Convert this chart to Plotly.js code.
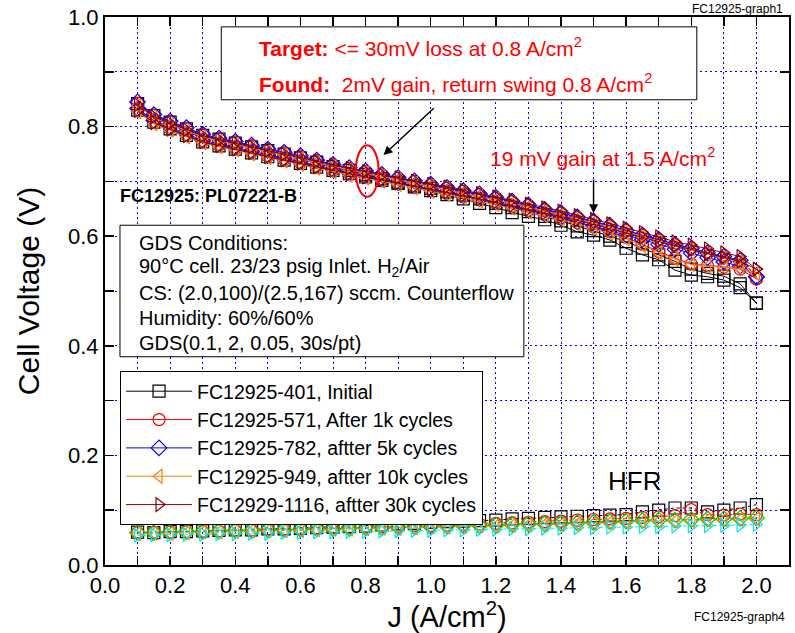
<!DOCTYPE html>
<html>
<head>
<meta charset="utf-8">
<script src="https://cdn.plot.ly/plotly-3.0.1.min.js"></script>
<style>html,body{margin:0;padding:0;background:#fff;}#chart{width:795px;height:633px;}</style>
</head>
<body>
<div id="chart"></div>
<script>
// Current density (A/cm^2), GDS scan 0.1 -> 2.0 step 0.05
const J = [0.10,0.15,0.20,0.25,0.30,0.35,0.40,0.45,0.50,0.55,0.60,0.65,0.70,0.75,0.80,0.85,0.90,0.95,1.00,1.05,1.10,1.15,1.20,1.25,1.30,1.35,1.40,1.45,1.50,1.55,1.60,1.65,1.70,1.75,1.80,1.85,1.90,1.95,2.00];

// Tick positions / labels
const xTickVals = [0,0.1,0.2,0.3,0.4,0.5,0.6,0.7,0.8,0.9,1.0,1.1,1.2,1.3,1.4,1.5,1.6,1.7,1.8,1.9,2.0];
const xTickText = ["0.0","","0.2","","0.4","","0.6","","0.8","","1.0","","1.2","","1.4","","1.6","","1.8","","2.0"];
const yTickVals = [0,0.1,0.2,0.3,0.4,0.5,0.6,0.7,0.8,0.9,1.0];
const yTickText = ["0.0","","0.2","","0.4","","0.6","","0.8","","1.0"];

// Series names
const names = ["FC12925-401, Initial","FC12925-571, After 1k cycles","FC12925-782, aftter 5k cycles","FC12925-949, aftter 10k cycles","FC12929-1116, aftter 30k cycles"];

// Cell voltage, up sweep (V)
const V401_up  = [0.842,0.820,0.808,0.796,0.784,0.777,0.770,0.763,0.756,0.750,0.743,0.735,0.727,0.720,0.713,0.705,0.697,0.690,0.683,0.676,0.668,0.660,0.652,0.643,0.636,0.630,0.620,0.608,0.602,0.593,0.578,0.566,0.557,0.538,0.529,0.526,0.520,0.506,0.478];
const V571_up  = [0.843,0.821,0.809,0.797,0.785,0.778,0.772,0.765,0.758,0.752,0.746,0.738,0.730,0.724,0.718,0.712,0.706,0.700,0.694,0.688,0.682,0.676,0.670,0.663,0.656,0.648,0.642,0.634,0.627,0.619,0.610,0.601,0.593,0.584,0.577,0.569,0.562,0.553,0.522];
const V782_up  = [0.845,0.822,0.810,0.798,0.786,0.779,0.773,0.766,0.759,0.753,0.747,0.739,0.731,0.725,0.719,0.713,0.707,0.701,0.695,0.689,0.683,0.677,0.671,0.664,0.657,0.649,0.643,0.635,0.628,0.620,0.611,0.602,0.594,0.585,0.578,0.570,0.563,0.556,0.526];
const V949_up  = [0.838,0.816,0.804,0.792,0.781,0.774,0.768,0.761,0.754,0.748,0.742,0.734,0.727,0.721,0.715,0.709,0.703,0.697,0.691,0.685,0.679,0.673,0.667,0.660,0.653,0.646,0.639,0.632,0.625,0.617,0.608,0.599,0.591,0.582,0.576,0.568,0.561,0.552,0.532];
const V1116_up = [0.840,0.818,0.806,0.794,0.783,0.776,0.770,0.763,0.756,0.750,0.744,0.737,0.730,0.724,0.718,0.712,0.707,0.701,0.695,0.690,0.684,0.678,0.672,0.666,0.659,0.652,0.646,0.638,0.631,0.623,0.615,0.607,0.599,0.590,0.584,0.577,0.570,0.563,0.540];

// Cell voltage, return sweep (V), listed at the same J order
const V401_dn  = [0.830,0.808,0.796,0.784,0.772,0.765,0.759,0.752,0.745,0.739,0.733,0.726,0.720,0.714,0.708,0.702,0.697,0.692,0.687,0.681,0.675,0.668,0.660,0.652,0.645,0.636,0.628,0.619,0.610,0.600,0.590,0.578,0.566,0.554,0.540,0.532,0.527,0.513,0.478];
const V571_dn  = [0.831,0.809,0.797,0.785,0.773,0.766,0.760,0.753,0.746,0.740,0.734,0.727,0.720,0.714,0.709,0.703,0.697,0.691,0.685,0.679,0.673,0.667,0.661,0.654,0.647,0.640,0.633,0.625,0.617,0.608,0.598,0.585,0.572,0.560,0.549,0.546,0.544,0.540,0.522];
const V782_dn  = [0.833,0.811,0.799,0.787,0.775,0.768,0.762,0.755,0.748,0.742,0.736,0.729,0.722,0.716,0.710,0.704,0.698,0.692,0.686,0.680,0.674,0.668,0.662,0.655,0.648,0.641,0.634,0.626,0.619,0.611,0.602,0.594,0.585,0.576,0.569,0.561,0.553,0.545,0.526];
const V949_dn  = [0.827,0.805,0.793,0.781,0.770,0.763,0.757,0.750,0.743,0.737,0.731,0.724,0.717,0.711,0.706,0.700,0.694,0.688,0.682,0.676,0.670,0.664,0.658,0.651,0.644,0.637,0.630,0.622,0.614,0.605,0.595,0.583,0.570,0.558,0.548,0.545,0.543,0.541,0.532];
const V1116_dn = [0.829,0.807,0.795,0.783,0.772,0.765,0.759,0.752,0.745,0.739,0.733,0.726,0.720,0.714,0.708,0.703,0.697,0.691,0.686,0.680,0.674,0.668,0.662,0.656,0.649,0.642,0.636,0.629,0.622,0.614,0.606,0.598,0.590,0.582,0.575,0.568,0.561,0.554,0.540];

// HFR (ohm cm^2)
const HFR401  = [0.060,0.059,0.061,0.061,0.062,0.063,0.064,0.064,0.066,0.066,0.067,0.068,0.069,0.070,0.071,0.073,0.075,0.076,0.078,0.079,0.080,0.081,0.082,0.084,0.085,0.087,0.088,0.089,0.090,0.091,0.092,0.097,0.100,0.104,0.104,0.097,0.100,0.104,0.110];
const HFR571  = [0.059,0.060,0.060,0.061,0.061,0.062,0.063,0.064,0.064,0.065,0.066,0.067,0.068,0.068,0.069,0.070,0.071,0.072,0.072,0.073,0.074,0.075,0.076,0.077,0.078,0.079,0.080,0.082,0.083,0.084,0.085,0.087,0.088,0.090,0.101,0.092,0.091,0.093,0.092];
const HFR782  = [0.059,0.059,0.060,0.061,0.061,0.062,0.063,0.063,0.064,0.064,0.065,0.066,0.066,0.067,0.068,0.068,0.069,0.070,0.070,0.071,0.072,0.072,0.073,0.074,0.075,0.075,0.076,0.077,0.078,0.079,0.080,0.081,0.082,0.082,0.083,0.084,0.084,0.085,0.086];
const HFR949  = [0.057,0.058,0.058,0.059,0.060,0.060,0.061,0.062,0.062,0.063,0.063,0.064,0.065,0.065,0.066,0.067,0.067,0.068,0.069,0.069,0.070,0.071,0.071,0.072,0.073,0.074,0.074,0.075,0.076,0.077,0.078,0.079,0.080,0.080,0.081,0.082,0.082,0.083,0.084];
const HFR1116 = [0.054,0.055,0.055,0.056,0.056,0.057,0.057,0.058,0.058,0.059,0.059,0.060,0.060,0.061,0.061,0.062,0.062,0.063,0.063,0.064,0.064,0.065,0.065,0.066,0.066,0.067,0.067,0.068,0.068,0.069,0.069,0.070,0.070,0.071,0.071,0.072,0.072,0.073,0.074];

const polColors = ["#000000","#ff0000","#0000ff","#ff8000","#8b0000"];
const hfrColors = ["#000000","#ff0000","#00cc00","#ff8000","#00e5ee"];
const symbols = ["square-open","circle-open","diamond-open","triangle-left-open","triangle-right-open"];

const upSets = [V401_up,V571_up,V782_up,V949_up,V1116_up];
const dnSets = [V401_dn,V571_dn,V782_dn,V949_dn,V1116_dn];
const hfrSets = [HFR401,HFR571,HFR782,HFR949,HFR1116];

const Jrev = J.slice().reverse();
const traces = [];
for (let i = 0; i < 5; i++) {
  traces.push({
    x: J, y: hfrSets[i], type: "scatter", mode: "lines+markers", showlegend: false,
    line: {color: hfrColors[i], width: 1, dash: "dot"},
    marker: {symbol: symbols[i], size: 12, color: hfrColors[i], line: {color: hfrColors[i], width: 1.2}}
  });
}
for (let i = 0; i < 5; i++) {
  traces.push({
    x: J.concat(Jrev), y: upSets[i].concat(dnSets[i].slice().reverse()),
    type: "scatter", mode: "lines+markers", name: names[i],
    line: {color: polColors[i], width: 1},
    marker: {symbol: symbols[i], size: 12, color: polColors[i], line: {color: polColors[i], width: 1.2}}
  });
}

const FONT = "Liberation Sans, Arial, sans-serif";
const axisCommon = {
  tickmode: "array",
  ticks: "inside", ticklen: 9, tickwidth: 1.5, tickcolor: "#000",
  showline: true, linewidth: 2, linecolor: "#000", mirror: "ticks",
  showgrid: true, gridcolor: "#0000ff", griddash: "2px,3px", gridwidth: 1,
  zeroline: false,
  tickfont: {family: FONT, size: 22, color: "#000"}
};

const layout = {
  width: 795, height: 633,
  margin: {l: 105, r: 6, t: 17, b: 68},
  paper_bgcolor: "#fff", plot_bgcolor: "#fff",
  font: {family: FONT, color: "#000"},
  xaxis: Object.assign({}, axisCommon, {
    range: [0, 2.1], tickvals: xTickVals, ticktext: xTickText,
    title: {text: "J (A/cm<sup>2</sup>)", font: {family: FONT, size: 29}, standoff: 10}
  }),
  yaxis: Object.assign({}, axisCommon, {
    range: [0, 1.0], tickvals: yTickVals, ticktext: yTickText,
    title: {text: "Cell Voltage (V)", font: {family: FONT, size: 30}, standoff: 20}
  }),
  legend: {
    x: 0.022, y: 0.354, xanchor: "left", yanchor: "top",
    bgcolor: "#fff", bordercolor: "#000", borderwidth: 1,
    font: {family: FONT, size: 19.5, color: "#000"},
    itemwidth: 66, tracegroupgap: 0
  },
  shapes: [
    {type: "rect", xref: "x", yref: "y", x0: 0.357, x1: 1.817, y0: 0.849, y1: 0.982, line: {color: "#000", width: 1}, fillcolor: "#fff"},
    {type: "rect", xref: "x", yref: "y", x0: 0.046, x1: 1.286, y0: 0.38, y1: 0.62, line: {color: "#000", width: 1}, fillcolor: "#fff"},
    {type: "circle", xref: "x", yref: "y", x0: 0.77, x1: 0.84, y0: 0.672, y1: 0.766, line: {color: "#ff0000", width: 2}}
  ],
  annotations: [
    {xref: "x", yref: "y", x: 0.467, y: 0.945, xanchor: "left", yanchor: "middle", showarrow: false,
     text: "<b>Target:</b> &lt;= 30mV loss at 0.8 A/cm<sup>2</sup>", font: {family: FONT, size: 21, color: "#ff0000"}},
    {xref: "x", yref: "y", x: 0.467, y: 0.880, xanchor: "left", yanchor: "middle", showarrow: false,
     text: "<b>Found:</b>  2mV gain, return swing 0.8 A/cm<sup>2</sup>", font: {family: FONT, size: 21, color: "#ff0000"}},
    {xref: "x", yref: "y", x: 1.176, y: 0.745, xanchor: "left", yanchor: "middle", showarrow: false,
     text: "19 mV gain at 1.5 A/cm<sup>2</sup>", font: {family: FONT, size: 21, color: "#ff0000"}},
    {xref: "x", yref: "y", x: 0.04, y: 0.673, xanchor: "left", yanchor: "middle", showarrow: false,
     text: "<b>FC12925: PL07221-B</b>", font: {family: FONT, size: 18, color: "#000"}},
    {xref: "x", yref: "y", x: 0.098, y: 0.588, xanchor: "left", yanchor: "middle", showarrow: false,
     text: "GDS Conditions:", font: {family: FONT, size: 20, color: "#000"}},
    {xref: "x", yref: "y", x: 0.098, y: 0.542, xanchor: "left", yanchor: "middle", showarrow: false,
     text: "90°C cell. 23/23 psig Inlet. H<sub>2</sub>/Air", font: {family: FONT, size: 20, color: "#000"}},
    {xref: "x", yref: "y", x: 0.098, y: 0.496, xanchor: "left", yanchor: "middle", showarrow: false,
     text: "CS: (2.0,100)/(2.5,167) sccm. Counterflow", font: {family: FONT, size: 20, color: "#000"}},
    {xref: "x", yref: "y", x: 0.098, y: 0.451, xanchor: "left", yanchor: "middle", showarrow: false,
     text: "Humidity: 60%/60%", font: {family: FONT, size: 20, color: "#000"}},
    {xref: "x", yref: "y", x: 0.098, y: 0.405, xanchor: "left", yanchor: "middle", showarrow: false,
     text: "GDS(0.1, 2, 0.05, 30s/pt)", font: {family: FONT, size: 20, color: "#000"}},
    {xref: "x", yref: "y", x: 1.627, y: 0.153, xanchor: "center", yanchor: "middle", showarrow: false,
     text: "HFR", font: {family: FONT, size: 26, color: "#000"}},
    {xref: "x", yref: "y", x: 0.855, y: 0.748, ax: 1.014, ay: 0.836, axref: "x", ayref: "y", text: "",
     showarrow: true, arrowhead: 2, arrowsize: 1.2, arrowwidth: 1.5, arrowcolor: "#000"},
    {xref: "x", yref: "y", x: 1.5, y: 0.642, ax: 1.5, ay: 0.706, axref: "x", ayref: "y", text: "",
     showarrow: true, arrowhead: 2, arrowsize: 1.2, arrowwidth: 1.5, arrowcolor: "#000"},
    {xref: "paper", yref: "paper", x: 0.924, y: 1.0155, xanchor: "center", yanchor: "middle", showarrow: false,
     text: "FC12925-graph1", font: {family: FONT, size: 12, color: "#000"}},
    {xref: "paper", yref: "paper", x: 0.928, y: -0.095, xanchor: "center", yanchor: "middle", showarrow: false,
     text: "FC12925-graph4", font: {family: FONT, size: 12, color: "#000"}}
  ]
};

Plotly.newPlot("chart", traces, layout, {displayModeBar: false, staticPlot: true});
</script>
</body>
</html>
